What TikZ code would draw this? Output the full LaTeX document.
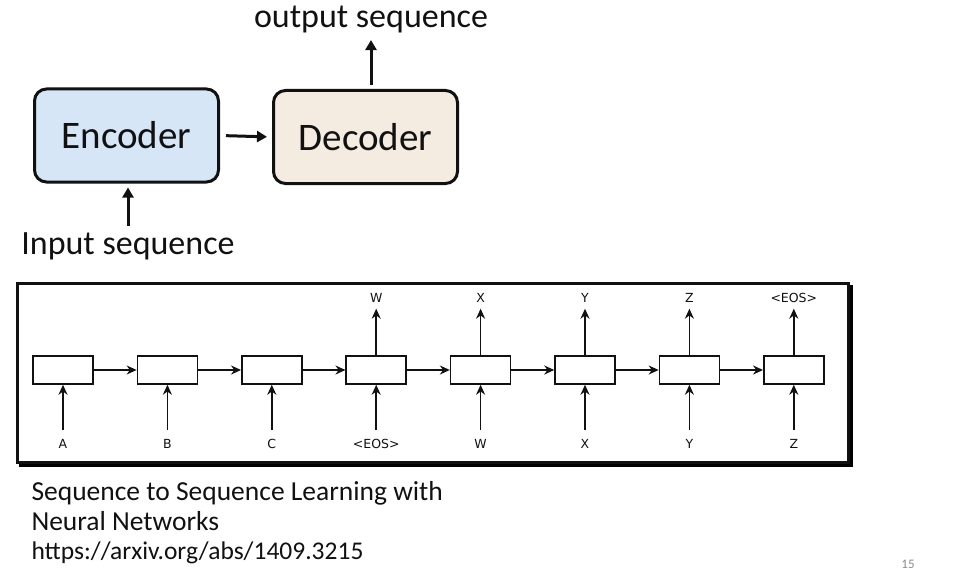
\documentclass[tikz,border=0pt]{standalone}
\usepackage{fontspec}
\setmainfont{Carlito}
\newfontfamily\chainfont{DejaVu Sans}
\usepackage{xcolor}
\usetikzlibrary{arrows.meta}
\definecolor{ink}{HTML}{111111}
\definecolor{encfill}{HTML}{D6E6F6}
\definecolor{decfill}{HTML}{F4EBE1}
\definecolor{shade}{HTML}{9A9A9A}
\definecolor{pagenum}{HTML}{8C8C8C}
\tikzset{
  block/.style={draw=ink, line width=3pt, rounded corners=12pt, minimum width=184pt, minimum height=93pt, font=\fontsize{39}{44}\selectfont, text=ink},
  thick arr/.style={draw=ink, line width=3pt, -{Triangle[length=10pt,width=11pt]}},
  seqlab/.style={text=ink, font=\fontsize{34}{38}\selectfont},
  cell/.style={draw=ink, line width=1.5pt, minimum width=60pt, minimum height=28pt, inner sep=0pt},
  thin arr/.style={draw=ink, line width=1.6pt, -{Stealth[length=10pt,width=9pt]}},
  tok/.style={text=ink, font=\chainfont\fontsize{12.5}{14}\selectfont, inner sep=0pt, text height=9pt, text depth=0pt},
  note/.style={text=ink, font=\fontsize{27.5}{32}\selectfont, anchor=base west},
}
\begin{document}
\begin{tikzpicture}[x=1pt,y=-1pt]
  \useasboundingbox (0,0) rectangle (958,575);

  % encoder / decoder
  \node[block, fill=encfill] (enc) at (126.5,135.5) {Encoder};
  \node[block, fill=decfill] (dec) at (365.5,137) {Decoder};
  \node[seqlab] (outseq) at (371,19) {output sequence};
  \node[seqlab] (inseq) at (128,246) {Input sequence};
  \draw[thick arr, shorten <=4pt, shorten >=4pt] (outseq.south |- dec.north) -- (outseq.south);
  \draw[thick arr, shorten <=6pt, shorten >=5pt] (enc.east) -- (dec.west);
  \draw[thick arr, shorten <=3pt, shorten >=4pt] (inseq.north) -- (inseq.north |- enc.south);

  % seq2seq figure
  \draw[shade, line width=3pt] (20,286) rectangle (851,465);
  \draw[ink, line width=3pt, fill=white] (17,283) rectangle (848,462);
  \foreach \t [count=\i] in {A,B,C,<EOS>,W,X,Y,Z} {
    \node[cell] (c\i) at ({63+104.4*(\i-1)},370) {};
    \node[tok] (in\i) at ({63+104.4*(\i-1)},444) {\t};
    \draw[thin arr, shorten <=9pt] (in\i.north) -- (c\i.south);
  }
  \foreach \t [count=\i from 4] in {W,X,Y,Z,<EOS>} {
    \node[tok] (out\i) at ({63+104.4*(\i-1)},298) {\t};
    \draw[thin arr, shorten >=6pt] (c\i.north) -- (out\i.south);
  }
  \foreach \i [count=\j from 2] in {1,...,7}
    \draw[thin arr] (c\i.east) -- (c\j.west);

  % reference
  \node[note] (title) at (28,500) {Sequence to Sequence Learning with};
  \node[note] (title2) at (28,530) {Neural Networks};
  \node[note, font=\fontsize{25.5}{30}\selectfont] (url) at (28,559) {https://arxiv.org/abs/1409.3215};
  \node[text=pagenum, font=\fontsize{13}{15}\selectfont] (num) at (908,564) {15};
\end{tikzpicture}
\end{document}
